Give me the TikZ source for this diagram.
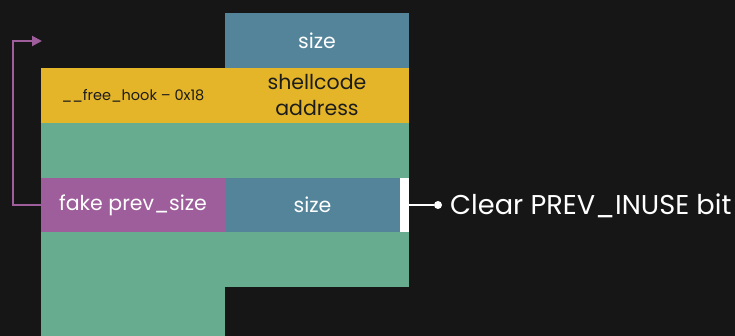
\documentclass[tikz,border=0pt]{standalone}
\usepackage{fontspec}
\setmainfont{Poppins}
\usetikzlibrary{arrows.meta}
\definecolor{bg}{HTML}{161616}
\definecolor{cblue}{HTML}{538499}
\definecolor{cyellow}{HTML}{E4B528}
\definecolor{cgreen}{HTML}{68AC8F}
\definecolor{cpurple}{HTML}{9E5E9B}
\definecolor{dtext}{HTML}{1C1C1C}
\begin{document}
\begin{tikzpicture}[x=1pt,y=-1pt,
  blk/.style={rectangle, inner sep=0pt, outer sep=0pt, anchor=north west, align=center},
  lbl/.style={font=\fontsize{20.5}{26}\selectfont},
  small/.style={font=\fontsize{14.5}{18}\selectfont},
  link/.style={draw=cpurple, line width=2pt, -{Triangle[length=10pt,width=10pt]}}
]
\fill[bg] (0,0) rectangle (735,336);
\useasboundingbox (0,0) rectangle (735,336);
% blocks
\node[blk, fill=cblue, minimum width=184pt, minimum height=55pt, text=white, lbl] (size1) at (225,13) {size};
\node[blk, fill=cyellow, minimum width=368pt, minimum height=55pt] (hook) at (41,68) {};
\node[blk, anchor=center, text=dtext, small] (hooktxt) at (133,96) {\_\_free\_hook -- 0x18};
\node[blk, anchor=center, text=dtext, lbl] (shell) at (317,95.5) {shellcode\\address};
\node[blk, fill=cgreen, minimum width=368pt, minimum height=55pt] (green1) at (41,123) {};
\node[blk, fill=cpurple, minimum width=184pt, minimum height=54pt, text=white, lbl] (fake) at (41,178) {fake prev\_size};
\node[blk, fill=cblue, minimum width=175pt, minimum height=54pt, text=white, lbl] (size2) at (225,178) {size};
\node[blk, fill=white, minimum width=9pt, minimum height=54pt] (strip) at (400,178) {};
\node[blk, fill=cgreen, minimum width=368pt, minimum height=55pt] (green2) at (41,232) {};
\node[blk, fill=cgreen, minimum width=184pt, minimum height=50pt] (green3) at (41,286) {};
% purple link
\coordinate (tip) at (42,41);
\draw[link] (fake.west) -- (13,205) |- (tip);
% note
\node[circle, fill=white, minimum size=8pt, inner sep=0pt] (dot) at (438,205) {};
\draw[white, line width=1.5pt] (strip.east) -- (dot);
\node[anchor=west, text=white, font=\fontsize{27.2}{30}\selectfont, inner sep=0pt] (note) at (450,206) {Clear PREV\_INUSE bit};
\end{tikzpicture}
\end{document}
